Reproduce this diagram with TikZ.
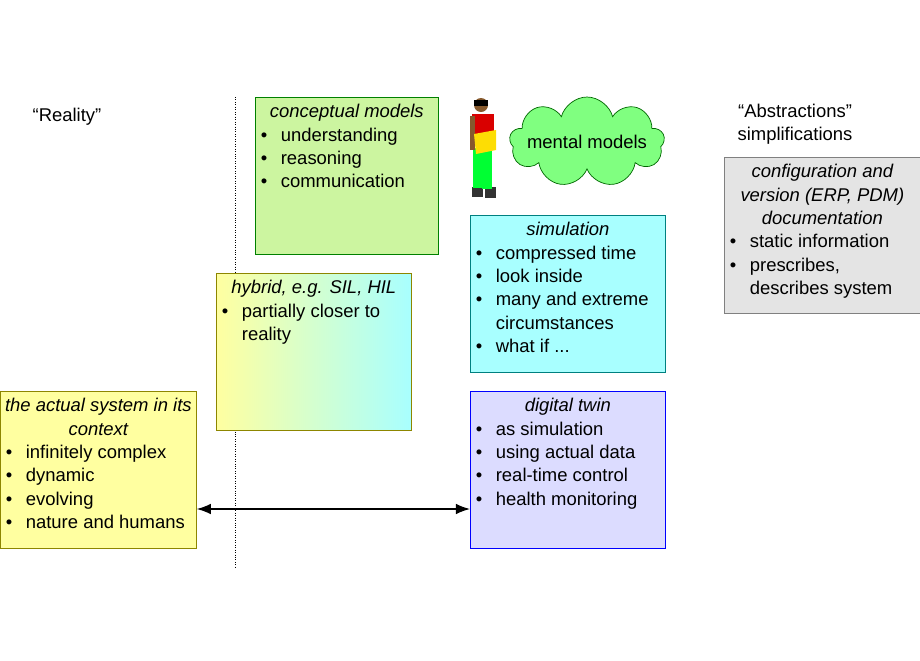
\documentclass[tikz,border=0pt]{standalone}
\usepackage{fontspec}
\setmainfont{Liberation Sans}
\usetikzlibrary{shapes.symbols,arrows.meta}
\definecolor{cmgreen}{HTML}{CCF5A0}
\definecolor{simcyan}{HTML}{A8FFFF}
\definecolor{sysyellow}{HTML}{FFFFA0}
\definecolor{twinblue}{HTML}{DCDCFF}
\definecolor{docgray}{HTML}{E4E4E4}
\definecolor{cloudgreen}{HTML}{80FF80}
\newcommand\itm[1]{\par\hangindent=0.44cm\hangafter=1\noindent\makebox[0.44cm][l]{\hspace{0.04cm}\textbullet}#1\par}
\newcommand\ttl[1]{{\centering\itshape #1\par}}
\newcommand\bx[3]{\begin{minipage}[t][\dimexpr 0.02cm*#2-8pt\relax][t]{\dimexpr 0.02cm*#1-4pt\relax}\raggedright\hyphenpenalty=10000 #3\end{minipage}}
\begin{document}
\begin{tikzpicture}[
        x=0.02cm,
        y=-0.02cm,
        font=\fontsize{10.5}{13.3}\selectfont
    ]
    \tikzset{
        mybox/.style = {rectangle, draw, anchor=north west, inner xsep=2pt, inner ysep=4pt},
    }
    \useasboundingbox (0,0) rectangle (920,660);
    \node at (67,117) (real) {``Reality''};
    \node[align=center] at (795,124) (abst) {``Abstractions''\\simplifications};
    \coordinate (dtop) at (235,97);
    \coordinate (dbot) at (235,568);
    \draw[densely dotted] (dtop) -- (dbot);
    %
    \node[mybox,fill=cmgreen,draw=green!50!black] at (255,97) (cm)
        {\bx{183}{157}{\ttl{conceptual models}\itm{understanding}\itm{reasoning}\itm{communication}}};
    \node[mybox,fill=simcyan,draw=teal] at (470,215) (sim)
        {\bx{195}{157}{\ttl{simulation}\itm{compressed time}\itm{look inside}\itm{many and extreme circumstances}\itm{what if ...}}};
    \node[mybox,left color=sysyellow,right color=simcyan,draw=olive] at (216,273) (hyb)
        {\bx{195}{157}{\ttl{hybrid, e.g. SIL, HIL}\itm{partially closer to reality}}};
    \node[mybox,fill=sysyellow,draw=olive] at (0,391) (sys)
        {\bx{196}{157}{\ttl{the actual system in its context}\itm{infinitely complex}\itm{dynamic}\itm{evolving}\itm{nature and humans}}};
    \node[mybox,fill=twinblue,draw=blue] at (470,391) (twin)
        {\bx{195}{157}{\ttl{digital twin}\itm{as simulation}\itm{using actual data}\itm{real-time control}\itm{health monitoring}}};
    \node[mybox,fill=docgray,draw=gray] at (724,157) (doc)
        {\bx{196}{156}{\ttl{configuration and version (ERP, PDM) documentation}\itm{static information}\itm{prescribes, describes system}}};
    %
    \node[cloud,cloud puffs=9,aspect=1.7,inner sep=0pt,draw=green!40!black,fill=cloudgreen,minimum width=3.1cm,minimum height=1.8cm] at (587,142) (mm) {};
    \node at (mm.center) (mmt) {mental models};
    % person
    \fill[black!80] (472,187) rectangle (483,197);
    \fill[black!80] (485,187) rectangle (496,198);
    \fill[green!80!cyan] (473,148) rectangle (482,188);
    \fill[green!80!cyan] (482,148) rectangle (492,189);
    \fill[red!85!black] (472,114) rectangle (494,146);
    \fill[brown!70!black] (470,116) rectangle (475,150);
    \fill[brown!70!black] (481,105) circle (7);
    \fill[black] (474,100) rectangle (488,106);
    \fill[yellow!80!orange] (474,134) -- (496,130) -- (496,150) -- (476,154) -- cycle;
    %
    \coordinate (arr) at (0,509);
    \draw[{Latex[length=8pt]}-{Latex[length=8pt]}, thick] (sys.east |- arr) -- (twin.west |- arr);
\end{tikzpicture}
\end{document}
